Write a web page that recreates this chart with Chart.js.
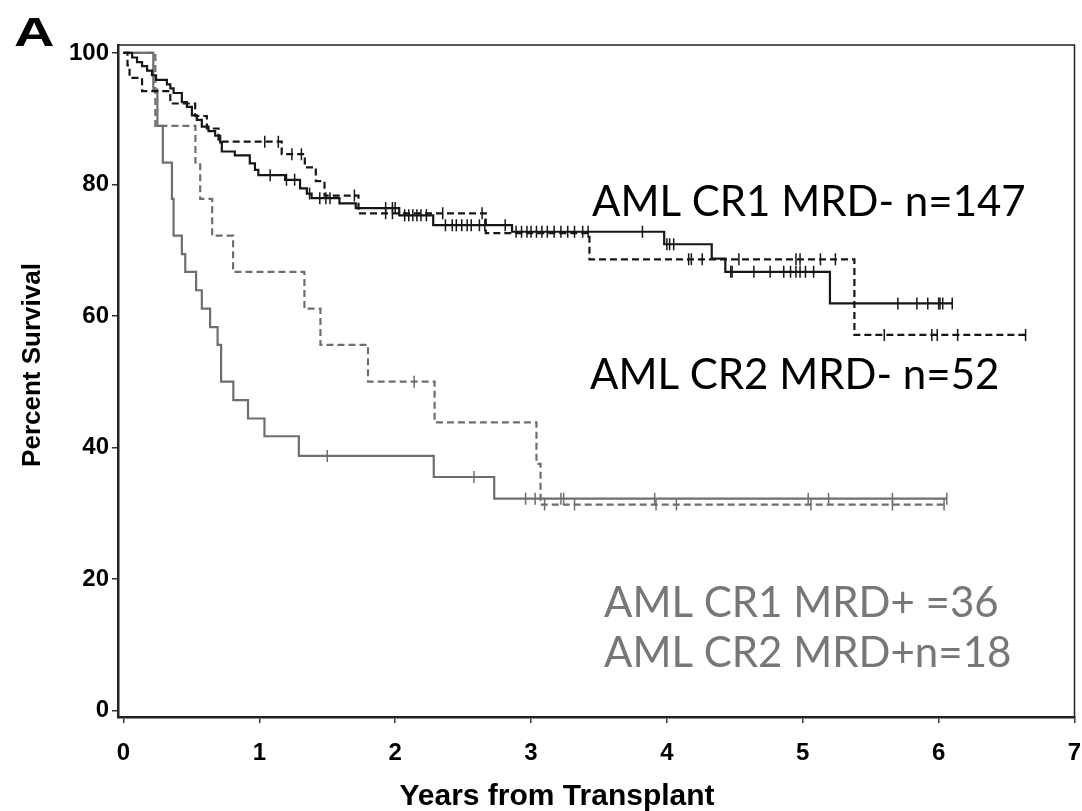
<!DOCTYPE html>
<html>
<head>
<meta charset="utf-8">
<script src="https://cdn.jsdelivr.net/npm/chart.js@4.4.1/dist/chart.umd.min.js"></script>
<style>
  html, body { margin: 0; padding: 0; background: #ffffff; }
  #wrap { width: 1082px; height: 811px; position: relative; }
</style>
</head>
<body>
<div id="wrap"><canvas id="c"></canvas></div>
<script>
// ---------- data ----------
const xTickValues = [0, 1, 2, 3, 4, 5, 6, 7];
const yTickValues = [0, 20, 40, 60, 80, 100];

// AML CR1 MRD- (solid black)
const cr1NegTime = [0, 0.064, 0.10, 0.137, 0.174, 0.21, 0.24, 0.32, 0.345, 0.369, 0.43, 0.467, 0.504, 0.54, 0.577, 0.626, 0.675, 0.712, 0.724, 0.82, 0.93, 0.968, 0.993, 1.19, 1.30, 1.35, 1.385, 1.59, 1.71, 2.03, 2.28, 2.86, 3.98, 4.33, 4.43, 5.20, 6.10];
const cr1NegSurv = [100, 99.3, 98.6, 98.0, 97.3, 96.6, 95.9, 95.2, 94.6, 93.9, 92.5, 91.8, 90.5, 89.8, 88.8, 88.1, 87.4, 86.4, 85.0, 84.4, 83.2, 82.2, 81.4, 80.7, 79.4, 78.6, 77.9, 77.1, 76.4, 75.3, 73.8, 72.8, 70.9, 68.7, 66.7, 61.9, 61.9];
const cr1NegCensor = [1.08, 1.20, 1.26, 1.37, 1.445, 1.49, 1.52, 1.93, 1.98, 2.00, 2.07, 2.10, 2.13, 2.16, 2.19, 2.23, 2.37, 2.42, 2.45, 2.49, 2.53, 2.56, 2.62, 2.66, 2.81, 2.89, 2.93, 2.97, 3.00, 3.04, 3.08, 3.12, 3.17, 3.22, 3.27, 3.32, 3.38, 3.42, 3.82, 4.00, 4.02, 4.05, 4.47, 4.48, 4.64, 4.76, 4.86, 4.91, 4.95, 4.98, 5.02, 5.08, 5.70, 5.84, 5.92, 6.00, 6.01, 6.03, 6.10];

// AML CR2 MRD- (dashed black)
const cr2NegTime = [0, 0.03, 0.045, 0.137, 0.345, 0.528, 0.614, 0.70, 1.165, 1.335, 1.416, 1.48, 1.73, 2.667, 3.43, 5.38, 6.64];
const cr2NegSurv = [100, 98.1, 96.2, 94.2, 92.3, 90.4, 88.5, 86.5, 84.6, 82.6, 80.5, 78.3, 75.6, 72.6, 68.6, 57.1, 57.1];
const cr2NegCensor = [1.04, 1.14, 1.24, 1.31, 1.70, 1.93, 1.98, 2.35, 2.64, 4.16, 4.18, 4.26, 4.53, 4.95, 4.98, 5.13, 5.24, 5.60, 5.95, 5.99, 6.14, 6.64];

// AML CR1 MRD+ (solid grey)
const cr1PosTime = [0, 0.22, 0.25, 0.29, 0.357, 0.369, 0.43, 0.455, 0.535, 0.577, 0.638, 0.693, 0.719, 0.809, 0.917, 1.038, 1.291, 2.284, 2.729, 6.06];
const cr1PosSurv = [100, 94.4, 88.9, 83.3, 77.8, 72.2, 69.4, 66.7, 63.9, 61.1, 58.3, 55.6, 50.0, 47.2, 44.4, 41.7, 38.7, 35.5, 32.2, 32.2];
const cr1PosCensor = [1.50, 2.58, 2.96, 3.03, 3.22, 3.24, 3.91, 5.04, 5.19, 5.66, 6.06];

// AML CR2 MRD+ (dashed grey)
const cr2PosTime = [0, 0.235, 0.53, 0.565, 0.653, 0.807, 1.332, 1.45, 1.80, 2.29, 3.04, 3.07, 6.06];
const cr2PosSurv = [100, 88.9, 83.3, 77.8, 72.2, 66.7, 61.1, 55.6, 50.0, 43.8, 37.5, 31.3, 31.3];
const cr2PosCensor = [2.14, 3.10, 3.32, 3.92, 4.07, 5.06, 5.66, 6.04];

const groupLabels = ["AML CR1 MRD- n=147", "AML CR2 MRD- n=52", "AML CR1 MRD+ =36", "AML CR2 MRD+n=18"];
const xTitle = "Years from Transplant";
const yTitle = "Percent Survival";
const panelLabel = "A";

// ---------- helpers ----------
function toPoints(times, surv) { return times.map((t, i) => ({ x: t, y: surv[i] })); }
function survAt(times, surv, t) {
  let v = surv[0];
  for (let i = 0; i < times.length; i++) { if (times[i] <= t + 1e-9) v = surv[i]; }
  return v;
}
function censorPoints(times, surv, cens) { return cens.map(c => ({ x: c, y: survAt(times, surv, c) })); }

const BLACK = '#161616';
const GREY = '#6e6e6e';
const DASH = [7, 4];

function curve(times, surv, color, dashed) {
  return {
    type: 'line', data: toPoints(times, surv), stepped: 'before',
    borderColor: color, borderWidth: 2.2, borderDash: dashed ? DASH : [],
    pointRadius: 0, fill: false, tension: 0
  };
}
function censors(times, surv, cens, color) {
  return {
    type: 'scatter', data: censorPoints(times, surv, cens),
    pointStyle: 'line', rotation: 90, pointRadius: 6, pointHoverRadius: 6,
    borderColor: color, borderWidth: 1.5, backgroundColor: color
  };
}

const datasets = [
  curve(cr1NegTime, cr1NegSurv, BLACK, false),
  censors(cr1NegTime, cr1NegSurv, cr1NegCensor, BLACK),
  curve(cr2NegTime, cr2NegSurv, BLACK, true),
  censors(cr2NegTime, cr2NegSurv, cr2NegCensor, BLACK),
  curve(cr1PosTime, cr1PosSurv, GREY, false),
  censors(cr1PosTime, cr1PosSurv, cr1PosCensor, GREY),
  curve(cr2PosTime, cr2PosSurv, GREY, true),
  censors(cr2PosTime, cr2PosSurv, cr2PosCensor, GREY)
];

// ---------- text / frame plugin ----------
const decor = {
  id: 'decor',
  afterDraw(chart) {
    const ctx = chart.ctx, a = chart.chartArea;
    ctx.save();
    // frame (top + right)
    ctx.strokeStyle = '#222'; ctx.lineWidth = 1.5;
    ctx.beginPath();
    ctx.moveTo(a.left, a.top); ctx.lineTo(a.right, a.top); ctx.lineTo(a.right, a.bottom);
    ctx.stroke();
    // panel letter
    ctx.fillStyle = '#000';
    ctx.save();
    ctx.translate(14, 46); ctx.scale(1.4, 1);
    ctx.font = 'bold 40px "Liberation Sans", Arial, sans-serif';
    ctx.textBaseline = 'alphabetic'; ctx.textAlign = 'left';
    ctx.fillText(panelLabel, 0, 0);
    ctx.restore();
    // axis titles
    ctx.font = 'bold 30px "Liberation Sans", Arial, sans-serif';
    ctx.textAlign = 'center';
    ctx.textBaseline = 'alphabetic';
    ctx.fillText(xTitle, 557, 805);
    ctx.save();
    ctx.translate(40, 365); ctx.rotate(-Math.PI / 2);
    ctx.font = 'bold 26px "Liberation Sans", Arial, sans-serif';
    ctx.fillText(yTitle, 0, 0);
    ctx.restore();
    // group labels
    ctx.textAlign = 'left';
    ctx.font = '42px Lato, "Open Sans", sans-serif';
    ctx.fillStyle = '#000';
    ctx.fillText(groupLabels[0], 592, 216);
    ctx.fillText(groupLabels[1], 590, 389);
    ctx.fillStyle = '#777';
    ctx.fillText(groupLabels[2], 604, 617);
    ctx.fillText(groupLabels[3], 604, 667);
    ctx.restore();
  }
};

const tickFont = { family: '"Liberation Sans", Arial, sans-serif', size: 24, weight: 'bold' };

new Chart(document.getElementById('c'), {
  data: { datasets },
  options: {
    responsive: true, maintainAspectRatio: false, animation: false,
    layout: { padding: { top: 45, right: 4, left: 0, bottom: 0 } },
    plugins: { legend: { display: false }, tooltip: { enabled: false } },
    events: [],
    scales: {
      x: {
        type: 'linear', min: -0.04, max: 7.0,
        afterBuildTicks: s => { s.ticks = xTickValues.map(v => ({ value: v })); },
        afterFit: s => { s.height = 94; s.paddingLeft = 0; s.paddingRight = 0; },
        ticks: { font: tickFont, color: '#000', padding: 16, maxRotation: 0, autoSkip: false },
        grid: { drawOnChartArea: false, drawTicks: true, tickLength: 6, color: '#333', lineWidth: 1.5 },
        border: { display: true, color: '#222', width: 2.5 }
      },
      y: {
        type: 'linear', min: -1, max: 101.2,
        afterBuildTicks: s => { s.ticks = yTickValues.map(v => ({ value: v })); },
        afterFit: s => { s.width = 118; s.paddingTop = 0; s.paddingBottom = 0; },
        ticks: { font: tickFont, color: '#000', padding: 3, autoSkip: false },
        grid: { drawOnChartArea: false, drawTicks: true, tickLength: 6, color: '#333', lineWidth: 1.5 },
        border: { display: true, color: '#222', width: 2.5 }
      }
    }
  },
  plugins: [decor]
});
</script>
</body>
</html>
